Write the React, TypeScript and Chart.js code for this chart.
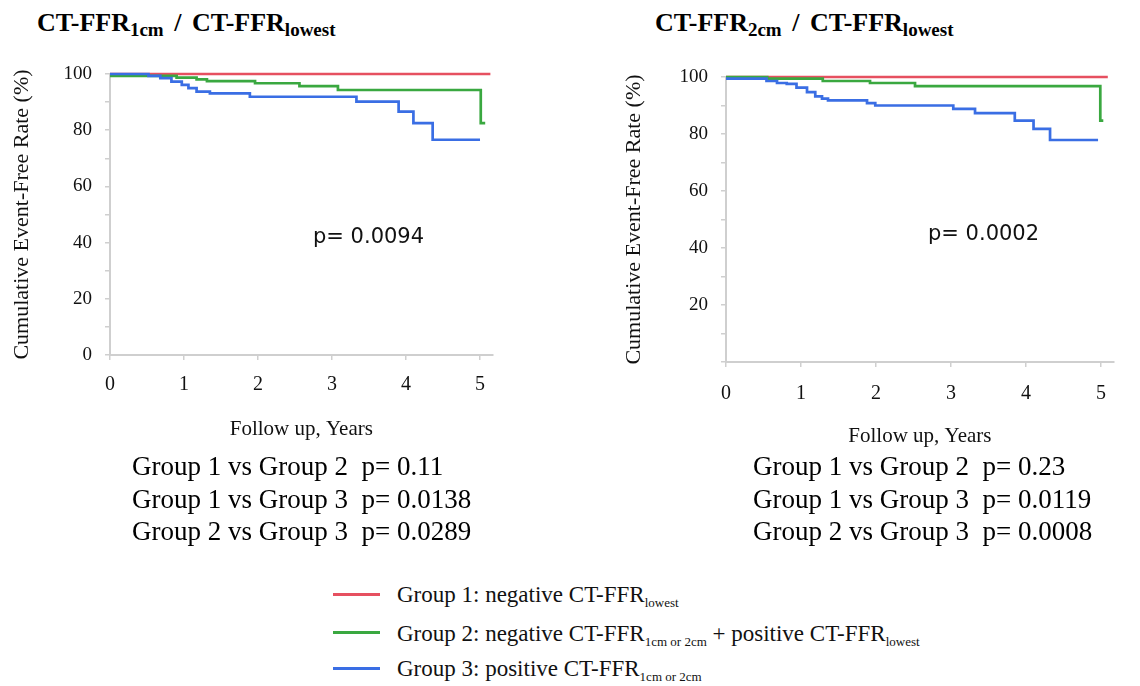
import React, { useEffect, useRef } from 'react';
import { Chart, registerables } from 'chart.js';

Chart.register(...registerables);

// ---------- data ----------
const X_TICKS = [0, 1, 2, 3, 4, 5];
const X_TICK_LABELS = ['0', '1', '2', '3', '4', '5'];
const Y_TICK_POSITIONS = [0, 10, 20, 30, 40, 50, 60, 70, 80, 90, 100];
const Y_LABELS_LEFT = [0, 20, 40, 60, 80, 100];
const Y_LABELS_RIGHT = [20, 40, 60, 80, 100];

// Left panel: CT-FFR1cm / CT-FFRlowest
const L_G1_YEARS = [0, 5.14];
const L_G1_RATE = [100, 100];
const L_G2_YEARS = [0, 0.9, 1.17, 1.31, 1.96, 2.56, 3.08, 5.01, 5.07];
const L_G2_RATE = [99.3, 98.7, 98.1, 97.5, 96.7, 95.7, 94.3, 82.5, 82.5];
const L_G3_YEARS = [0, 0.52, 0.68, 0.83, 0.97, 1.06, 1.17, 1.35, 1.89, 3.33, 3.9, 4.1, 4.36, 5.0];
const L_G3_RATE = [100, 99.3, 98.5, 97.3, 96.1, 95.0, 93.7, 93.1, 91.9, 90.2, 86.6, 82.5, 76.6, 76.6];

// Right panel: CT-FFR2cm / CT-FFRlowest
const R_G1_YEARS = [0, 5.09];
const R_G1_RATE = [100, 100];
const R_G2_YEARS = [0, 0.55, 1.29, 1.92, 2.52, 4.99, 5.03];
const R_G2_RATE = [100, 99.4, 98.6, 97.9, 96.8, 84.7, 84.7];
const R_G3_YEARS = [0, 0.54, 0.68, 0.81, 0.94, 1.08, 1.19, 1.28, 1.36, 1.88, 1.99, 3.03, 3.32, 3.85, 4.1, 4.32, 4.96];
const R_G3_RATE = [99.4, 98.6, 97.9, 97.6, 96.3, 94.7, 93.2, 92.4, 91.8, 90.8, 90.0, 88.8, 87.3, 84.7, 81.8, 77.9, 77.9];

const LEFT_P = 'p= 0.0094';
const RIGHT_P = 'p= 0.0002';
const LEFT_STATS = ['Group 1 vs Group 2  p= 0.11', 'Group 1 vs Group 3  p= 0.0138', 'Group 2 vs Group 3  p= 0.0289'];
const RIGHT_STATS = ['Group 1 vs Group 2  p= 0.23', 'Group 1 vs Group 3  p= 0.0119', 'Group 2 vs Group 3  p= 0.0008'];

const RED = 'rgb(230,80,96)';
const GREEN = 'rgb(58,168,64)';
const BLUE = 'rgb(58,110,228)';
const GRID = '#cfcfcf';
const TEXT = '#111';
const SERIF = '"Liberation Serif", "Times New Roman", serif';

type Series = { years: number[]; rate: number[]; color: string; order: number };

type PanelProps = {
  left: number; top: number; width: number; height: number;
  chartLeft: number; chartTop: number; chartRight: number; chartBottom: number;
  xMax: number; series: Series[]; yLabels: number[];
  xTickPad: number; xTitlePad: number; yTitlePad: number; yTickPad: number;
};

function KMPanel(p: PanelProps) {
  const ref = useRef<HTMLCanvasElement | null>(null);
  useEffect(() => {
    if (!ref.current) return;
    const tickFontX = { family: SERIF, size: 20 };
    const tickFontY = { family: SERIF, size: 19 };
    const chart = new Chart(ref.current, {
      type: 'line',
      data: {
        datasets: p.series.map((s) => ({
          data: s.years.map((x, i) => ({ x, y: s.rate[i] })),
          borderColor: s.color,
          backgroundColor: s.color,
          borderWidth: 2.7,
          stepped: true,
          pointRadius: 0,
          fill: false,
          order: s.order,
          clip: false,
        })),
      },
      options: {
        responsive: false,
        animation: false,
        layout: {
          padding: {
            left: 0,
            top: p.chartTop - p.top,
            right: p.left + p.width - p.chartRight,
            bottom: 0,
          },
        },
        plugins: { legend: { display: false }, tooltip: { enabled: false } },
        scales: {
          x: {
            type: 'linear',
            min: 0,
            max: p.xMax,
            afterBuildTicks: (s: any) => {
              s.ticks = X_TICKS.map((v) => ({ value: v }));
            },
            afterFit: (s: any) => {
              s.height = p.top + p.height - p.chartBottom;
            },
            ticks: {
              autoSkip: false,
              maxRotation: 0,
              font: tickFontX,
              color: TEXT,
              padding: p.xTickPad,
              callback: (_v: any, i: number) => X_TICK_LABELS[i],
            },
            grid: { drawOnChartArea: false, tickLength: 5, color: GRID, lineWidth: 1.5 },
            border: { color: GRID, width: 2 },
            title: {
              display: true,
              text: 'Follow up, Years',
              font: { family: SERIF, size: 21 },
              color: TEXT,
              padding: { top: 0, bottom: p.xTitlePad },
            },
          },
          y: {
            type: 'linear',
            min: 0,
            max: 100,
            afterBuildTicks: (s: any) => {
              s.ticks = Y_TICK_POSITIONS.map((v) => ({ value: v }));
            },
            afterFit: (s: any) => {
              s.width = p.chartLeft - p.left;
            },
            ticks: {
              font: tickFontY,
              color: TEXT,
              padding: p.yTickPad,
              callback: (v: any) => (p.yLabels.includes(Number(v)) ? String(v) : ''),
            },
            grid: { drawOnChartArea: false, tickLength: 5, color: GRID, lineWidth: 1.5 },
            border: { color: GRID, width: 2 },
            title: {
              display: true,
              text: 'Cumulative Event-Free Rate (%)',
              font: { family: SERIF, size: 22 },
              color: TEXT,
              padding: { top: p.yTitlePad, bottom: 0 },
            },
          },
        },
      },
    } as any);
    return () => chart.destroy();
  }, []);
  return (
    <canvas
      ref={ref}
      width={p.width}
      height={p.height}
      style={{ position: 'absolute', left: p.left, top: p.top, width: p.width, height: p.height }}
    />
  );
}

const subTitle: React.CSSProperties = { fontSize: 19, position: 'relative', top: 5 };
const subLegend: React.CSSProperties = { fontSize: 13, position: 'relative', top: 5 };

function Title({ left, sub }: { left: number; sub: string }) {
  return (
    <div style={{ position: 'absolute', left, top: 8, fontSize: 26, fontWeight: 'bold', lineHeight: '30px', whiteSpace: 'nowrap', wordSpacing: 4, fontFamily: SERIF, color: '#000' }}>
      CT-FFR<span style={subTitle}>{sub}</span> / CT-FFR<span style={subTitle}>lowest</span>
    </div>
  );
}

function Stats({ left, lines }: { left: number; lines: string[] }) {
  return (
    <div style={{ position: 'absolute', left, top: 450, fontSize: 27, lineHeight: '32.5px', whiteSpace: 'pre', fontFamily: SERIF, color: '#000' }}>
      {lines.map((l, i) => (
        <div key={i}>{l}</div>
      ))}
    </div>
  );
}

const LEGEND_COLORS = [RED, GREEN, BLUE];
const LEGEND_TOPS = [594, 632, 668];

export default function App() {
  const leftSeries: Series[] = [
    { years: L_G1_YEARS, rate: L_G1_RATE, color: RED, order: 3 },
    { years: L_G2_YEARS, rate: L_G2_RATE, color: GREEN, order: 2 },
    { years: L_G3_YEARS, rate: L_G3_RATE, color: BLUE, order: 1 },
  ];
  const rightSeries: Series[] = [
    { years: R_G1_YEARS, rate: R_G1_RATE, color: RED, order: 3 },
    { years: R_G2_YEARS, rate: R_G2_RATE, color: GREEN, order: 2 },
    { years: R_G3_YEARS, rate: R_G3_RATE, color: BLUE, order: 1 },
  ];
  return (
    <div style={{ position: 'absolute', left: 0, top: 0, width: 1140, height: 686, background: '#fff', overflow: 'hidden', fontFamily: SERIF }}>
      <Title left={37} sub="1cm" />
      <Title left={655} sub="2cm" />
      <KMPanel
        left={0} top={40} width={560} height={430}
        chartLeft={110} chartTop={74} chartRight={492.6} chartBottom={355}
        xMax={5.17} series={leftSeries} yLabels={Y_LABELS_LEFT}
        xTickPad={13} xTitlePad={28} yTitlePad={9} yTickPad={13}
      />
      <KMPanel
        left={600} top={40} width={540} height={430}
        chartLeft={726} chartTop={77} chartRight={1113.8} chartBottom={362}
        xMax={5.17} series={rightSeries} yLabels={Y_LABELS_RIGHT}
        xTickPad={15} xTitlePad={21} yTitlePad={21} yTickPad={13}
      />
      <div style={{ position: 'absolute', left: 313, top: 224, fontFamily: '"DejaVu Sans", sans-serif', fontSize: 21, lineHeight: '24px', color: '#111' }}>{LEFT_P}</div>
      <div style={{ position: 'absolute', left: 928, top: 221, fontFamily: '"DejaVu Sans", sans-serif', fontSize: 21, lineHeight: '24px', color: '#111' }}>{RIGHT_P}</div>
      <Stats left={132} lines={LEFT_STATS} />
      <Stats left={753} lines={RIGHT_STATS} />
      {LEGEND_COLORS.map((c, i) => (
        <div key={i} style={{ position: 'absolute', left: 333, top: LEGEND_TOPS[i] - 1.5, width: 47, height: 3, background: c }} />
      ))}
      <div style={{ position: 'absolute', left: 397, top: 581, fontSize: 23, lineHeight: '28px', whiteSpace: 'nowrap', color: '#111' }}>
        Group 1: negative CT-FFR<span style={subLegend}>lowest</span>
      </div>
      <div style={{ position: 'absolute', left: 397, top: 620, fontSize: 23, lineHeight: '28px', whiteSpace: 'nowrap', color: '#111' }}>
        Group 2: negative CT-FFR<span style={subLegend}>1cm or 2cm</span> + positive CT-FFR<span style={subLegend}>lowest</span>
      </div>
      <div style={{ position: 'absolute', left: 397, top: 655, fontSize: 23, lineHeight: '28px', whiteSpace: 'nowrap', color: '#111' }}>
        Group 3: positive CT-FFR<span style={subLegend}>1cm or 2cm</span>
      </div>
    </div>
  );
}
